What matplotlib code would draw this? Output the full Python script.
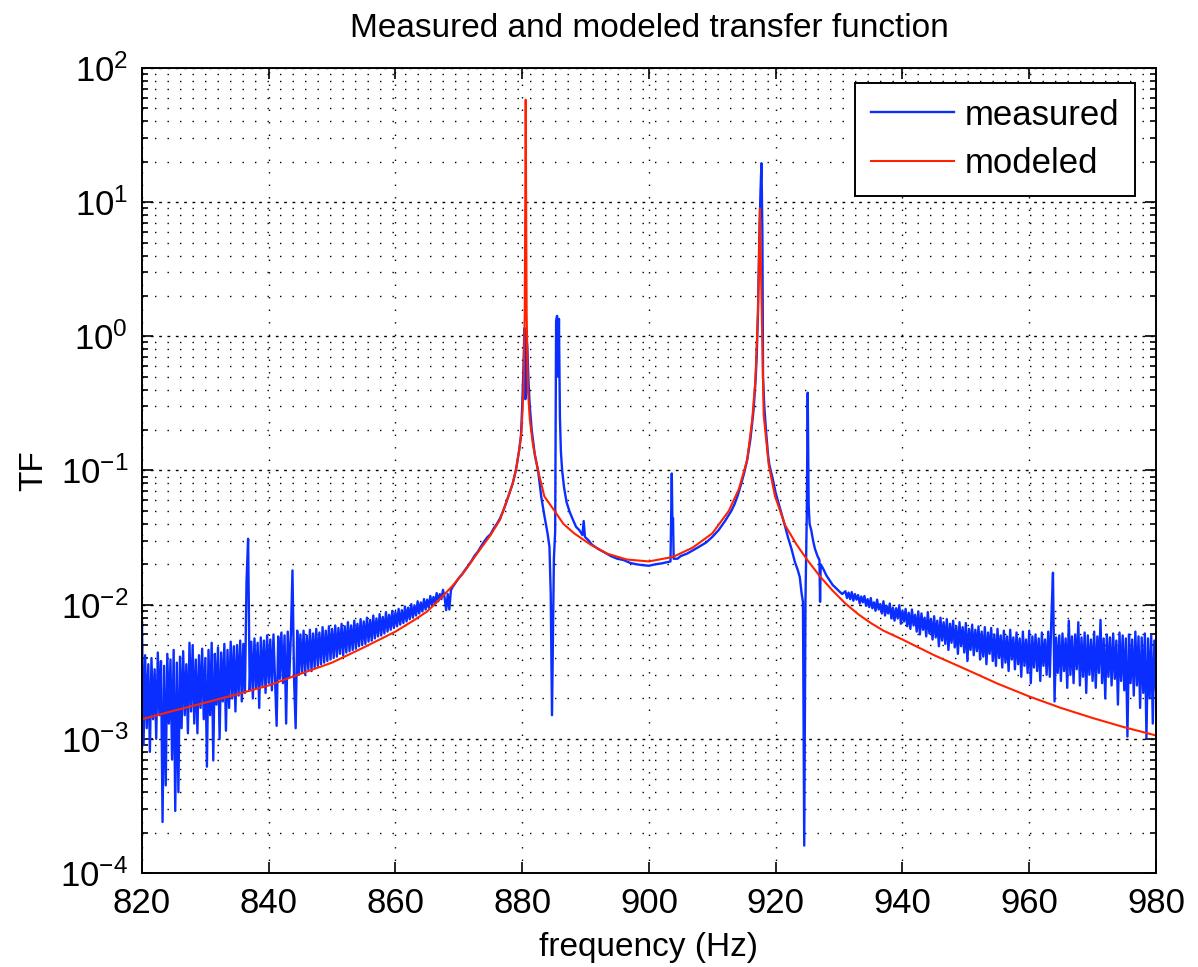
import numpy as np
import matplotlib
matplotlib.use('Agg')
import matplotlib.pyplot as plt
from matplotlib.ticker import FixedLocator, LogLocator, FuncFormatter, NullFormatter

plt.rcParams['font.family'] = ['Liberation Sans', 'DejaVu Sans']
plt.rcParams['mathtext.fontset'] = 'custom'
plt.rcParams['mathtext.rm'] = 'Liberation Sans'

# measured TF, noisy low band, units of 1e-3, 0.25 Hz steps starting at 820 Hz
meas_left = [
    7.4, 0.9, 4.2, 1.2, 3.6, 0.8, 4.0, 1.4,
    3.3, 1.0, 4.4, 1.5, 3.8, 0.24, 3.5, 0.45,
    4.3, 1.3, 3.9, 0.7, 4.6, 0.29, 3.7, 0.4,
    4.1, 1.2, 4.5, 1.5, 3.6, 1.1, 5.2, 1.6,
    5.0, 1.3, 3.9, 1.1, 4.2, 1.7, 4.7, 1.4,
    4.0, 0.62, 4.6, 1.5, 5.2, 0.69, 4.3, 1.8,
    4.8, 1.0, 4.4, 1.9, 5.1, 1.15, 4.6, 1.7,
    5.3, 2.0, 4.9, 1.6, 5.0, 2.1, 5.4, 1.9,
    5.1, 2.2, 15.0, 31.0, 2.3, 5.3, 2.0, 5.6,
    2.4, 5.2, 1.7, 5.7, 2.5, 5.4, 2.2, 5.9,
    2.6, 5.5, 2.3, 6.0, 2.7, 1.25, 5.8, 2.8,
    6.2, 2.6, 5.9, 1.3, 6.3, 2.9, 6.0, 18.0,
    2.8, 1.2, 6.4, 3.0, 6.0, 3.1, 6.4, 3.0,
    5.9, 3.3, 6.5, 3.2, 6.1, 3.4, 6.6, 3.5,
    6.2, 3.6, 6.8, 3.7, 6.4, 3.8, 6.9, 3.9,
    6.6, 4.0, 7.0, 4.1, 6.7, 4.3, 7.2, 4.2,
    6.9, 4.4, 7.4, 4.5, 7.0, 4.6, 7.6, 4.7,
    7.2, 4.9, 7.8, 5.0, 7.5, 5.1, 8.0, 5.3,
    7.7, 5.4, 8.3, 5.6, 7.9, 5.8, 8.5, 5.9,
    8.1, 6.1, 8.8, 6.3, 8.4, 6.5, 9.0, 6.7,
    8.8, 6.9, 9.3, 7.1, 9.1, 7.3, 9.7, 7.5,
    9.5, 7.8, 10.1, 8.0, 9.9, 8.3, 10.6, 8.6,
    10.4, 8.9, 11.0, 9.2, 10.9, 9.5, 11.6, 9.9,
    11.4, 10.2, 12.2, 10.6, 12.0, 11.0, 12.9, 11.3,
    9.1,
]

# measured TF around the two resonances (Hz, TF)
meas_mid_f = [
    868.25, 868.5, 868.75, 869.0, 869.5, 870.0, 870.5, 871.0, 871.5, 872.0,
    872.5, 873.0, 873.5, 874.0, 874.5, 875.0, 875.5, 876.0, 876.5, 877.0,
    877.5, 878.0, 878.5, 879.0, 879.5, 879.8, 880.0, 880.2, 880.35, 880.5,
    880.65, 880.8, 881.0, 881.2, 881.5, 882.0, 882.5, 883.0, 883.5, 884.0,
    884.3, 884.5, 884.6, 884.7, 884.85, 885.0, 885.2, 885.35, 885.5, 885.65,
    885.8, 885.95, 886.1, 886.3, 886.6, 887.0, 887.5, 888.0, 888.5, 889.0,
    889.5, 889.7, 889.9, 890.5, 891.0, 892.0, 893.0, 894.0, 895.0, 896.0,
    897.0, 898.0, 899.0, 900.0, 901.0, 902.0, 903.0, 903.4, 903.5, 903.6,
    903.7, 903.8, 903.9, 904.5, 905.0, 906.0, 907.0, 908.0, 909.0, 910.0,
    911.0, 912.0, 913.0, 913.5, 914.0, 914.5, 915.0, 915.5, 916.0, 916.5,
    916.8, 917.0, 917.2, 917.4, 917.6, 917.75, 917.9, 918.0, 918.2, 918.5,
    918.8, 919.0, 919.5, 920.0, 920.5, 921.0, 921.5, 922.0, 922.5, 923.0,
    923.5, 923.8, 924.1, 924.3, 924.5, 924.7, 924.9, 925.05, 925.2, 925.35,
    925.6, 925.9, 926.2, 926.6, 926.9, 927.0, 927.1, 927.5, 928.0, 928.5,
    929.0, 929.5, 930.0, 930.5,
]
meas_mid_v = [
    0.0120, 0.0092, 0.0128, 0.0135, 0.0146, 0.0158, 0.0168, 0.0182, 0.0196, 0.0212,
    0.0232, 0.0248, 0.0272, 0.0296, 0.0318, 0.0335, 0.0370, 0.0400, 0.0440, 0.0500,
    0.058, 0.068, 0.080, 0.100, 0.140, 0.180, 0.300, 0.600, 1.15, 0.34,
    1.00, 0.85, 0.45, 0.30, 0.20, 0.13, 0.10, 0.064, 0.046, 0.034,
    0.027, 0.012, 0.004, 0.0015, 0.006, 0.022, 0.035, 1.30, 1.42, 0.50,
    1.35, 0.25, 0.14, 0.10, 0.075, 0.058, 0.049, 0.043, 0.038, 0.036,
    0.033, 0.042, 0.032, 0.030, 0.028, 0.026, 0.0245, 0.023, 0.022, 0.0215,
    0.0205, 0.0200, 0.0197, 0.0195, 0.0200, 0.0203, 0.0208, 0.0210, 0.044, 0.095,
    0.042, 0.044, 0.022, 0.022, 0.023, 0.024, 0.0255, 0.0272, 0.029, 0.032,
    0.036, 0.042, 0.050, 0.056, 0.065, 0.078, 0.095, 0.12, 0.17, 0.28,
    0.45, 0.70, 1.5, 5.0, 12.0, 19.5, 6.0, 0.50, 0.30, 0.19,
    0.13, 0.11, 0.088, 0.068, 0.056, 0.046, 0.038, 0.031, 0.026, 0.021,
    0.018, 0.016, 0.012, 0.0105, 0.00016, 0.011, 0.045, 0.38, 0.055, 0.040,
    0.036, 0.030, 0.026, 0.023, 0.0215, 0.0105, 0.020, 0.0185, 0.0165, 0.0152,
    0.0140, 0.0133, 0.0126, 0.0120,
]

# measured TF, noisy high band, units of 1e-3, 0.25 Hz steps starting at 931 Hz
meas_right = [
    12.6, 11.2, 12.3, 11.0, 12.4, 10.7, 12.0, 10.9,
    11.8, 10.2, 11.5, 10.4, 11.6, 9.8, 11.0, 9.6,
    11.2, 9.4, 10.4, 9.0, 10.9, 9.2, 10.1, 8.6,
    10.6, 8.3, 9.8, 8.6, 10.2, 7.9, 9.5, 7.6,
    9.4, 7.9, 9.9, 7.2, 9.0, 7.5, 9.3, 6.9,
    8.7, 6.6, 9.2, 7.0, 8.4, 6.3, 8.9, 6.0,
    8.6, 6.5, 8.0, 5.8, 8.8, 6.1, 7.8, 5.5,
    8.2, 5.7, 7.6, 4.9, 8.0, 5.4, 7.4, 5.1,
    7.8, 4.6, 7.2, 5.2, 7.6, 4.8, 6.9, 4.3,
    7.4, 4.9, 6.8, 4.4, 7.3, 3.8, 6.6, 4.6,
    7.1, 4.2, 6.5, 4.5, 6.9, 3.9, 6.3, 4.1,
    6.8, 3.6, 6.2, 4.3, 6.7, 3.8, 6.0, 3.5,
    6.6, 4.0, 5.9, 3.4, 6.4, 3.7, 5.8, 3.2,
    6.5, 3.9, 5.7, 3.3, 6.2, 3.6, 5.6, 2.9,
    6.3, 3.5, 5.5, 3.1, 6.4, 2.6, 5.8, 3.4,
    6.0, 3.2, 5.6, 2.7, 6.2, 3.5, 5.5, 3.0,
    6.3, 2.9, 8.0, 17.3, 1.9, 5.7, 3.1, 5.9,
    2.7, 6.1, 3.2, 5.6, 2.4, 7.6, 3.0, 5.8,
    2.6, 6.0, 3.3, 7.4, 2.5, 5.7, 2.9, 6.2,
    2.2, 5.9, 3.0, 5.5, 2.7, 6.3, 2.4, 5.8,
    3.1, 7.7, 2.6, 5.6, 2.0, 6.0, 2.9, 5.7,
    2.5, 6.1, 2.8, 5.4, 1.8, 6.2, 2.7, 5.9,
    2.3, 5.6, 1.04, 6.0, 2.6, 5.5, 2.1, 6.3,
    2.5, 5.8, 1.7, 5.7, 2.2, 6.1, 1.02, 5.6,
    2.0, 5.9, 1.3, 5.4, 2.3,
]

# modeled TF (Hz, TF)
model_f = [
    820, 825, 830, 835, 840, 845, 850, 855, 860, 863,
    865, 867, 869, 871, 873, 875, 876.5, 877.8, 878.5, 879.1,
    879.6, 879.9, 880.2, 880.4, 880.55, 880.7, 880.9, 881.2, 881.7, 882.5,
    883.5, 885.1, 886.5, 888.2, 890.8, 893.4, 896.5, 900, 903.8, 906.9,
    910, 912.6, 914.2, 915.5, 916.3, 916.8, 917.2, 917.5, 917.8, 918.1,
    918.9, 919.9, 921.5, 923.3, 925, 927, 929, 931, 933, 935,
    937, 940, 945, 950, 955, 960, 965, 970, 975, 980,
]
model_v = [
    0.00140, 0.00162, 0.00186, 0.00215, 0.00250, 0.00305, 0.00370, 0.00480, 0.00630, 0.00770,
    0.00890, 0.0110, 0.0138, 0.0180, 0.0245, 0.0330, 0.0430, 0.0640, 0.0800, 0.106,
    0.150, 0.200, 0.400, 1.5, 58.0, 1.5, 0.40, 0.24, 0.155, 0.100,
    0.064, 0.050, 0.040, 0.034, 0.028, 0.024, 0.0217, 0.0210, 0.0227, 0.0266,
    0.034, 0.050, 0.073, 0.12, 0.24, 0.48, 1.5, 9.0, 1.5, 0.26,
    0.11, 0.064, 0.039, 0.028, 0.0215, 0.0162, 0.0127, 0.0102, 0.0085, 0.0073,
    0.0064, 0.0055, 0.0042, 0.00330, 0.00258, 0.00207, 0.00170, 0.00143, 0.00122, 0.00106,
]

xticks = [820, 840, 860, 880, 900, 920, 940, 960, 980]

f_left = 820 + 0.25 * np.arange(len(meas_left))
f_right = 931 + 0.25 * np.arange(len(meas_right))
freq = np.concatenate([f_left, meas_mid_f, f_right])
tf = np.concatenate([np.array(meas_left) * 1e-3, meas_mid_v, np.array(meas_right) * 1e-3])

fig = plt.figure(figsize=(11.98, 9.67), dpi=100)
ax = fig.add_axes([0.1185, 0.0972, 0.8464, 0.8325])

ax.semilogy(freq, tf, color='#0a2eff', lw=1.7, label='measured')
ax.semilogy(model_f, model_v, color='#ff2200', lw=1.5, label='modeled')

ax.set_xlim(820, 980)
ax.set_ylim(1e-4, 1e2)
ax.xaxis.set_major_locator(FixedLocator(xticks))
ax.yaxis.set_major_locator(LogLocator(base=10, numticks=10))
ax.yaxis.set_minor_locator(LogLocator(base=10, subs=range(2, 10), numticks=20))
ax.yaxis.set_minor_formatter(NullFormatter())
ax.yaxis.set_major_formatter(FuncFormatter(lambda v, p: r'$\mathregular{10^{%d}}$' % round(np.log10(v))))

dots = (0, (1, 8))
ax.grid(True, which='major', axis='x', color='k', ls=dots, lw=1.0)
ax.grid(True, which='major', axis='y', color='k', ls=(0, (2, 4)), lw=1.0)
ax.grid(True, which='minor', axis='y', color='k', ls=dots, lw=1.0)

ax.tick_params(which='both', direction='in', top=True, right=True, labelsize=25, width=1.2)
ax.tick_params(which='major', length=8, pad=10)
ax.tick_params(which='minor', length=4)
for s in ax.spines.values():
    s.set_linewidth(1.4)

ax.set_title('Measured and modeled transfer function', fontsize=24, pad=22)
ax.set_xlabel('frequency (Hz)', fontsize=24, labelpad=9)
ax.set_ylabel('TF', fontsize=24, labelpad=8)

leg = ax.legend(loc='upper right', bbox_to_anchor=(1 - 21 / 1014, 1 - 15 / 805), borderaxespad=0,
                fontsize=25, fancybox=False, framealpha=1, edgecolor='k',
                handlelength=2.4, handletextpad=0.3, labelspacing=0.45, borderpad=0.45)
leg.get_frame().set_linewidth(1.4)

fig.savefig('out.png', dpi=100)
